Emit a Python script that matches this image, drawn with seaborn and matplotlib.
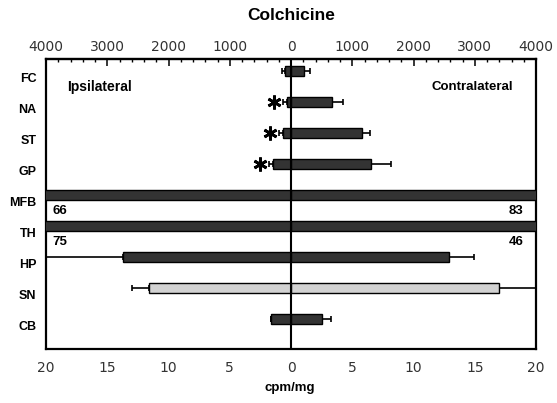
import matplotlib
matplotlib.use("Agg")
import matplotlib.pyplot as plt
import matplotlib.transforms as mtransforms
from matplotlib.ticker import FixedLocator, MultipleLocator, FuncFormatter
import seaborn as sns
import pandas as pd

# Brain regions and colchicine-labelled transport (cpm/mg)
regions = ["FC", "NA", "ST", "GP", "MFB", "TH", "HP", "SN", "CB"]
ipsilateral = [0.5, 0.35, 0.65, 1.45, 66, 75, 13.7, 11.6, 1.65]
ipsi_err = [0.25, 0.3, 0.35, 0.35, 0, 0, 7.0, 1.35, 0.0]
contralateral = [1.05, 3.35, 5.8, 6.55, 83, 46, 12.9, 17.0, 2.55]
contra_err = [0.5, 0.9, 0.65, 1.6, 0, 0, 2.0, 3.5, 0.7]
significant = [False, True, True, True, False, False, False, False, False]
offscale = ["MFB", "TH"]

bottom_ticks = [-20, -15, -10, -5, 0, 5, 10, 15, 20]
top_ticks = [-4000, -3000, -2000, -1000, 0, 1000, 2000, 3000, 4000]

sns.set_style("white")
plt.rcParams["font.family"] = ["Liberation Sans", "DejaVu Sans"]
plt.rcParams["text.color"] = "black"
plt.rcParams["xtick.color"] = "black"
plt.rcParams["ytick.color"] = "black"

df = pd.DataFrame({
    "region": regions,
    "ipsi": [-v for v in ipsilateral],
    "contra": contralateral,
})
palette = {r: ("#d2d2d2" if r == "SN" else "#333333") for r in regions}

fig = plt.figure(figsize=(5.57, 4.03), dpi=100)
ax = fig.add_axes([46 / 557, 1 - 349 / 403, 490 / 557, 290 / 403])

bar_kw = dict(orient="h", hue="region", palette=palette, legend=False,
              width=0.33, edgecolor="black", linewidth=1.0, saturation=1,
              order=regions, hue_order=regions, ax=ax, zorder=3)
sns.barplot(data=df, x="ipsi", y="region", **bar_kw)
sns.barplot(data=df, x="contra", y="region", **bar_kw)

# one-sided error whiskers pointing outward from each bar end
ypos = list(range(len(regions)))
ax.errorbar([-v for v in ipsilateral], ypos, xerr=[ipsi_err, [0] * len(regions)],
            fmt="none", ecolor="black", elinewidth=1.2, capsize=2.5, capthick=1.2, zorder=2)
ax.errorbar(contralateral, ypos, xerr=[[0] * len(regions), contra_err],
            fmt="none", ecolor="black", elinewidth=1.2, capsize=2.5, capthick=1.2, zorder=2)

ax.axvline(0, color="black", lw=1.5, zorder=4)

# significance asterisks just left of the ipsilateral whisker
star_shift = mtransforms.ScaledTranslation(-9 / 100, 0, fig.dpi_scale_trans)
for i, (v, e, s) in enumerate(zip(ipsilateral, ipsi_err, significant)):
    if s:
        ax.plot(-(v + e), i, marker=(6, 2, 0), markersize=10, mew=2.0, color="black",
                transform=ax.transData + star_shift, zorder=5, clip_on=False)

# values of the off-scale rows
for r in offscale:
    i = regions.index(r)
    ax.text(-19.5, i + 0.52, f"{ipsilateral[i]:.0f}", ha="left", va="center",
            fontsize=9.5, weight="bold")
    ax.text(19.0, i + 0.52, f"{contralateral[i]:.0f}", ha="right", va="center",
            fontsize=9.5, weight="bold")

ax.text(-18.25, 0.52, "Ipsilateral", ha="left", va="center", fontsize=10, weight="bold")
ax.text(18.1, 0.52, "Contralateral", ha="right", va="center", fontsize=9.5, weight="bold")

ax.set_xlim(-20, 20)
ax.set_ylim(8.97, -0.39)
ax.set_xlabel("")
ax.set_ylabel("")

ax.xaxis.set_major_locator(FixedLocator(bottom_ticks))
ax.xaxis.set_major_formatter(FuncFormatter(lambda v, p: f"{abs(v):.0f}"))
ax.xaxis.set_minor_locator(MultipleLocator(1))
ax.tick_params(axis="x", which="major", direction="in", length=5, width=1.1,
               labelsize=10, pad=9, labelcolor="#333333")
ax.tick_params(axis="x", which="minor", direction="in", length=2.5, width=1.0)
for lab in ax.get_xticklabels():
    lab.set_family("DejaVu Sans")

ax.tick_params(axis="y", length=0, pad=7, labelsize=9)
label_shift = mtransforms.ScaledTranslation(0, -6.5 / 100, fig.dpi_scale_trans)
for lab in ax.get_yticklabels():
    lab.set_fontweight("bold")
    lab.set_transform(lab.get_transform() + label_shift)

top = ax.secondary_xaxis("top", functions=(lambda x: x * 200, lambda x: x / 200))
top.xaxis.set_major_locator(FixedLocator(top_ticks))
top.xaxis.set_major_formatter(FuncFormatter(lambda v, p: f"{abs(v):.0f}"))
top.xaxis.set_minor_locator(MultipleLocator(200))
top.tick_params(axis="x", which="major", direction="in", length=5, width=1.1,
                labelsize=10, pad=3.5, labelcolor="#333333")
top.tick_params(axis="x", which="minor", direction="in", length=2.5, width=1.0)
for lab in top.get_xticklabels():
    lab.set_family("DejaVu Sans")
top.spines["top"].set_linewidth(1.6)

for sp in ax.spines.values():
    sp.set_visible(True)
    sp.set_color("black")
    sp.set_linewidth(1.6)

fig.text(291 / 557, 1 - 16 / 403, "Colchicine", ha="center", va="center",
         fontsize=12.5, weight="bold")
fig.text(290 / 557, 1 - 388 / 403, "cpm/mg", ha="center", va="center",
         fontsize=9.5, weight="bold")

fig.savefig("out.png", dpi=100, facecolor="white")
